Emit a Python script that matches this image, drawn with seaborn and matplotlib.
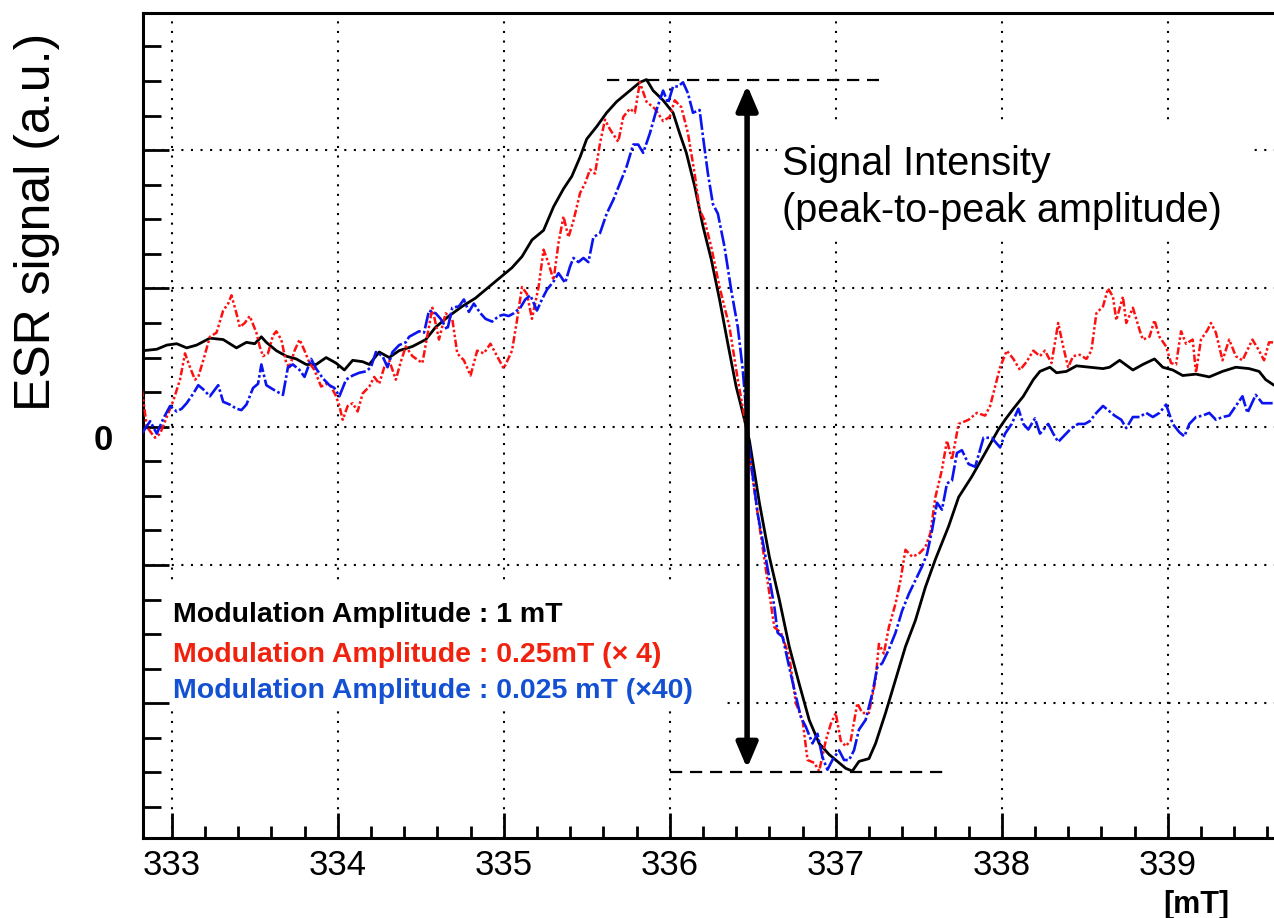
import matplotlib
matplotlib.use("Agg")
import matplotlib.pyplot as plt
import seaborn as sns
from matplotlib.patches import Rectangle
from matplotlib.ticker import MultipleLocator
from matplotlib.transforms import ScaledTranslation

# ---------------- data ----------------
black_x = [332.83, 332.91, 332.97, 333.03, 333.09, 333.15, 333.23, 333.31, 333.39, 333.45,
           333.50, 333.54, 333.57, 333.63, 333.69, 333.75, 333.81, 333.87, 333.93, 333.99,
           334.04, 334.09, 334.15, 334.19, 334.25, 334.31, 334.37, 334.45, 334.53, 334.59,
           334.67, 334.75, 334.83, 334.91, 334.97, 335.05, 335.11, 335.17, 335.24, 335.30,
           335.36, 335.41, 335.46, 335.50, 335.56, 335.62, 335.68, 335.76, 335.82, 335.86,
           335.90, 335.96, 336.02, 336.06, 336.10, 336.15, 336.20, 336.25, 336.30, 336.35,
           336.40, 336.44, 336.48, 336.54, 336.60, 336.66, 336.72, 336.78, 336.84, 336.90,
           336.96, 337.02, 337.06, 337.10, 337.14, 337.20, 337.24, 337.30, 337.36, 337.42,
           337.48, 337.54, 337.60, 337.68, 337.74, 337.82, 337.90, 337.98, 338.02, 338.07,
           338.13, 338.19, 338.23, 338.29, 338.33, 338.39, 338.45, 338.53, 338.61, 338.65,
           338.71, 338.79, 338.85, 338.92, 338.97, 339.03, 339.09, 339.17, 339.25, 339.33,
           339.41, 339.49, 339.55, 339.59, 339.64]
black_y = [0.55, 0.56, 0.59, 0.60, 0.57, 0.59, 0.64, 0.63, 0.57, 0.61,
           0.60, 0.65, 0.61, 0.55, 0.51, 0.49, 0.45, 0.45, 0.50, 0.46,
           0.41, 0.48, 0.47, 0.45, 0.54, 0.50, 0.55, 0.58, 0.63, 0.72,
           0.80, 0.87, 0.93, 1.01, 1.07, 1.15, 1.23, 1.35, 1.42, 1.59,
           1.72, 1.81, 1.95, 2.08, 2.17, 2.27, 2.35, 2.43, 2.49, 2.51,
           2.43, 2.36, 2.27, 2.12, 1.98, 1.74, 1.45, 1.21, 0.92, 0.60,
           0.29, 0.10, -0.10, -0.55, -0.94, -1.25, -1.59, -1.86, -2.12, -2.29,
           -2.37, -2.43, -2.47, -2.49, -2.42, -2.40, -2.29, -2.07, -1.83, -1.59,
           -1.40, -1.16, -0.96, -0.72, -0.51, -0.36, -0.19, -0.02, 0.05, 0.13,
           0.22, 0.34, 0.40, 0.43, 0.39, 0.40, 0.44, 0.43, 0.42, 0.43,
           0.48, 0.41, 0.45, 0.49, 0.43, 0.41, 0.37, 0.38, 0.36, 0.40,
           0.43, 0.42, 0.40, 0.34, 0.30]

red_x = [332.82, 332.85, 332.88, 332.90, 332.93, 332.97, 333.01, 333.05, 333.08, 333.11,
         333.14, 333.16, 333.19, 333.23, 333.27, 333.31, 333.34, 333.36, 333.39, 333.41,
         333.44, 333.47, 333.51, 333.53, 333.55, 333.58, 333.61, 333.63, 333.66, 333.69,
         333.71, 333.74, 333.77, 333.80, 333.83, 333.86, 333.90, 333.93, 333.96, 333.99,
         334.01, 334.03, 334.06, 334.09, 334.12, 334.15, 334.19, 334.22, 334.25, 334.28,
         334.31, 334.35, 334.38, 334.41, 334.45, 334.51, 334.57, 334.61, 334.65, 334.69,
         334.72, 334.76, 334.80, 334.84, 334.88, 334.92, 334.96, 335.00, 335.05, 335.08,
         335.11, 335.14, 335.17, 335.21, 335.24, 335.27, 335.30, 335.33, 335.36, 335.39,
         335.42, 335.46, 335.49, 335.52, 335.55, 335.58, 335.61, 335.64, 335.69, 335.72,
         335.76, 335.79, 335.82, 335.86, 335.91, 335.96, 336.00, 336.03, 336.07, 336.11,
         336.15, 336.18, 336.21, 336.25, 336.30, 336.36, 336.41, 336.45, 336.52, 336.58,
         336.63, 336.67, 336.72, 336.76, 336.80, 336.83, 336.87, 336.90, 336.94, 336.97,
         337.00, 337.03, 337.06, 337.09, 337.13, 337.16, 337.20, 337.24, 337.26, 337.29,
         337.32, 337.36, 337.39, 337.42, 337.46, 337.50, 337.54, 337.57, 337.60, 337.64,
         337.67, 337.70, 337.74, 337.80, 337.85, 337.90, 337.93, 337.96, 337.99, 338.03,
         338.07, 338.11, 338.15, 338.19, 338.23, 338.26, 338.30, 338.34, 338.37, 338.40,
         338.43, 338.47, 338.51, 338.54, 338.57, 338.61, 338.64, 338.67, 338.69, 338.73,
         338.75, 338.79, 338.83, 338.85, 338.89, 338.92, 338.95, 338.99, 339.02, 339.05,
         339.08, 339.11, 339.15, 339.17, 339.20, 339.24, 339.26, 339.29, 339.33, 339.37,
         339.41, 339.45, 339.51, 339.55, 339.58, 339.61, 339.64]
red_y = [0.27, 0.00, -0.05, -0.08, -0.05, 0.07, 0.19, 0.34, 0.53, 0.43,
         0.34, 0.36, 0.48, 0.65, 0.68, 0.84, 0.89, 0.95, 0.82, 0.72,
         0.75, 0.80, 0.68, 0.58, 0.51, 0.53, 0.66, 0.69, 0.63, 0.46,
         0.43, 0.55, 0.63, 0.55, 0.46, 0.41, 0.29, 0.31, 0.29, 0.22,
         0.15, 0.05, 0.15, 0.17, 0.11, 0.24, 0.29, 0.36, 0.31, 0.43,
         0.48, 0.34, 0.47, 0.58, 0.51, 0.46, 0.86, 0.63, 0.82, 0.78,
         0.53, 0.48, 0.37, 0.55, 0.53, 0.60, 0.51, 0.42, 0.55, 0.77,
         1.01, 0.96, 0.78, 1.01, 1.28, 1.18, 1.06, 1.33, 1.52, 1.37,
         1.49, 1.69, 1.76, 1.86, 1.83, 2.05, 2.22, 2.15, 2.06, 2.24,
         2.30, 2.27, 2.49, 2.35, 2.30, 2.21, 2.24, 2.36, 2.31, 2.12,
         1.83, 1.57, 1.49, 1.30, 1.01, 0.72, 0.34, 0.07, -0.55, -1.04,
         -1.45, -1.49, -1.66, -2.00, -2.12, -2.41, -2.43, -2.49, -2.27, -2.15,
         -2.07, -2.27, -2.31, -2.27, -2.00, -2.07, -2.07, -1.83, -1.57, -1.64,
         -1.45, -1.28, -1.11, -0.89, -0.94, -0.92, -0.87, -0.77, -0.51, -0.31,
         -0.10, -0.24, 0.02, 0.05, 0.10, 0.08, 0.15, 0.29, 0.43, 0.55,
         0.49, 0.41, 0.47, 0.55, 0.51, 0.55, 0.46, 0.75, 0.58, 0.43,
         0.51, 0.52, 0.49, 0.55, 0.82, 0.87, 1.00, 0.94, 0.77, 0.94,
         0.75, 0.86, 0.70, 0.63, 0.65, 0.77, 0.65, 0.58, 0.46, 0.45,
         0.69, 0.60, 0.63, 0.39, 0.63, 0.70, 0.75, 0.68, 0.48, 0.63,
         0.51, 0.48, 0.63, 0.55, 0.48, 0.61, 0.61]

blue_x = [332.82, 332.87, 332.91, 332.95, 332.99, 333.03, 333.06, 333.09, 333.13, 333.16,
          333.19, 333.23, 333.28, 333.31, 333.35, 333.39, 333.42, 333.45, 333.49, 333.52,
          333.54, 333.57, 333.61, 333.64, 333.67, 333.70, 333.73, 333.77, 333.80, 333.84,
          333.87, 333.91, 333.95, 333.98, 334.01, 334.05, 334.09, 334.13, 334.17, 334.20,
          334.23, 334.27, 334.30, 334.33, 334.37, 334.41, 334.43, 334.49, 334.52, 334.55,
          334.59, 334.62, 334.66, 334.69, 334.73, 334.76, 334.79, 334.82, 334.86, 334.89,
          334.93, 334.97, 335.00, 335.03, 335.06, 335.10, 335.13, 335.16, 335.20, 335.23,
          335.26, 335.30, 335.33, 335.37, 335.40, 335.42, 335.45, 335.48, 335.51, 335.54,
          335.58, 335.62, 335.66, 335.70, 335.74, 335.78, 335.81, 335.84, 335.88, 335.92,
          335.96, 335.99, 336.02, 336.05, 336.08, 336.11, 336.14, 336.18, 336.20, 336.23,
          336.26, 336.29, 336.33, 336.37, 336.41, 336.44, 336.48, 336.53, 336.58, 336.63,
          336.65, 336.68, 336.72, 336.76, 336.79, 336.82, 336.86, 336.89, 336.92, 336.95,
          336.98, 337.02, 337.05, 337.08, 337.11, 337.14, 337.18, 337.22, 337.25, 337.28,
          337.32, 337.36, 337.40, 337.44, 337.48, 337.52, 337.55, 337.58, 337.61, 337.64,
          337.67, 337.70, 337.73, 337.76, 337.80, 337.84, 337.89, 337.94, 337.99, 338.02,
          338.06, 338.10, 338.13, 338.16, 338.20, 338.23, 338.28, 338.31, 338.34, 338.38,
          338.42, 338.46, 338.50, 338.53, 338.57, 338.61, 338.64, 338.68, 338.72, 338.75,
          338.79, 338.83, 338.87, 338.91, 338.95, 338.99, 339.03, 339.07, 339.10, 339.13,
          339.17, 339.21, 339.25, 339.29, 339.33, 339.37, 339.41, 339.45, 339.48, 339.53,
          339.57, 339.64]
blue_y = [-0.05, 0.04, -0.05, 0.06, 0.15, 0.11, 0.13, 0.17, 0.24, 0.30,
          0.27, 0.22, 0.30, 0.18, 0.16, 0.13, 0.12, 0.16, 0.28, 0.31,
          0.45, 0.30, 0.27, 0.25, 0.23, 0.43, 0.45, 0.41, 0.36, 0.49,
          0.42, 0.35, 0.30, 0.28, 0.22, 0.34, 0.37, 0.39, 0.40, 0.43,
          0.54, 0.51, 0.43, 0.54, 0.59, 0.61, 0.65, 0.69, 0.68, 0.84,
          0.82, 0.78, 0.70, 0.86, 0.87, 0.92, 0.83, 0.89, 0.82, 0.78,
          0.76, 0.80, 0.81, 0.80, 0.82, 0.86, 0.92, 0.95, 0.84, 0.92,
          0.99, 1.05, 1.11, 1.04, 1.16, 1.22, 1.19, 1.22, 1.19, 1.37,
          1.40, 1.54, 1.64, 1.76, 1.88, 2.04, 2.04, 1.98, 2.12, 2.29,
          2.43, 2.34, 2.46, 2.46, 2.49, 2.41, 2.27, 2.29, 2.10, 1.83,
          1.61, 1.54, 1.30, 0.99, 0.72, 0.41, -0.17, -0.63, -0.96, -1.30,
          -1.49, -1.52, -1.74, -1.95, -2.10, -2.17, -2.29, -2.22, -2.39, -2.48,
          -2.41, -2.34, -2.41, -2.41, -2.34, -2.19, -2.12, -1.93, -1.74, -1.71,
          -1.61, -1.49, -1.33, -1.21, -1.11, -1.01, -0.92, -0.75, -0.55, -0.60,
          -0.41, -0.39, -0.19, -0.17, -0.27, -0.29, -0.08, -0.08, -0.15, -0.05,
          0.02, 0.13, 0.02, -0.02, 0.06, -0.05, 0.02, -0.05, -0.11, -0.06,
          -0.01, 0.02, 0.02, 0.04, 0.10, 0.15, 0.12, 0.08, 0.05, -0.01,
          0.07, 0.07, 0.10, 0.07, 0.10, 0.16, 0.02, -0.04, -0.07, 0.02,
          0.07, 0.08, 0.10, 0.05, 0.07, 0.08, 0.15, 0.22, 0.10, 0.23,
          0.17, 0.17]

x_ticks = [333, 334, 335, 336, 337, 338, 339]
x_tick_labels = ["333", "334", "335", "336", "337", "338", "339"]
y_ticks = [-2, -1, 0, 1, 2]
y_tick_labels = ["", "", "0", "", ""]

ref_levels = [2.507, -2.50]          # peak / trough reference levels
ref_x_start = [335.62, 336.00]
ref_x_end = [337.26, 337.65]
arrow_x = 336.466
arrow_top, arrow_bottom = 2.47, -2.47

legend_labels = ["Modulation Amplitude : 1 mT",
                 "Modulation Amplitude : 0.25mT (\u00d7 4)",
                 "Modulation Amplitude : 0.025 mT (\u00d740)"]
legend_colors = ["#000000", "#F0220E", "#1450D2"]

# ---------------- style ----------------
sns.set_style("white")
plt.rcParams["font.family"] = ["Liberation Sans", "DejaVu Sans"]
plt.rcParams["text.color"] = "black"
plt.rcParams["axes.labelcolor"] = "black"
plt.rcParams["xtick.color"] = "black"
plt.rcParams["ytick.color"] = "black"

W, H = 1274, 918
fig = plt.figure(figsize=(W / 100, H / 100), dpi=100)
ax_l, ax_r, ax_t, ax_b = 143, 1274, 13.3, 838.3
ax = fig.add_axes([ax_l / W, 1 - ax_b / H, (ax_r - ax_l) / W, (ax_b - ax_t) / H])
ax.set_axisbelow(False)

ax.set_xlim(332.827, 339.64)
ax.set_ylim(-2.976, 2.989)

# manual dotted grid (under white label boxes)
grid_ls = (0, (1, 3.6))
for xv in x_ticks:
    ax.axvline(xv, color="black", lw=1.5, linestyle=grid_ls, zorder=0.6)
for yv in y_ticks:
    ax.axhline(yv, color="black", lw=1.5, linestyle=grid_ls, zorder=0.6)

# white backgrounds of the text blocks
ax.add_patch(Rectangle((0.002, 0.1555), 0.514, 0.154, transform=ax.transAxes,
                       facecolor="white", edgecolor="none", zorder=1))
ax.add_patch(Rectangle((0.5606, 0.7252), 0.4208, 0.1455, transform=ax.transAxes,
                       facecolor="white", edgecolor="none", zorder=1))

# curves
sns.lineplot(x=black_x, y=black_y, ax=ax, color="black", lw=2.0,
             estimator=None, sort=False, zorder=3)
sns.lineplot(x=red_x, y=red_y, ax=ax, color="#FF1010", lw=1.8,
             linestyle=(0, (3, 1, 1, 1, 1, 1)), estimator=None, sort=False, zorder=3)
sns.lineplot(x=blue_x, y=blue_y, ax=ax, color="#0A14F0", lw=1.9,
             linestyle=(0, (6, 1, 1, 1)), estimator=None, sort=False, zorder=3)

# reference dashed lines
ax.hlines(ref_levels, ref_x_start, ref_x_end, colors="black", lw=1.6,
          linestyles=[(0, (5.5, 3.5))], zorder=3)

# double-headed arrow
ax.annotate("", xy=(arrow_x, arrow_top), xytext=(arrow_x, arrow_bottom),
            arrowprops=dict(arrowstyle="<|-|>,head_length=0.75,head_width=0.32",
                            lw=4, color="black", mutation_scale=20,
                            shrinkA=0, shrinkB=0), zorder=4)

ax.text(336.676, 1.82, "Signal Intensity", fontsize=28.5, va="baseline", ha="left",
        color="black", zorder=5)
ax.text(336.676, 1.48, "(peak-to-peak amplitude)", fontsize=28.5, va="baseline", ha="left",
        color="black", zorder=5)

# legend-like colored texts
leg_y = [0.2622, 0.2137, 0.1701]
for lab, col, yy in zip(legend_labels, legend_colors, leg_y):
    ax.text(0.0265, yy, lab, color=col, fontsize=20.5, fontweight="bold",
            transform=ax.transAxes, va="baseline", ha="left", zorder=5)

# ticks
ax.set_xticks(x_ticks)
ax.set_xticklabels(x_tick_labels)
ax.set_yticks(y_ticks)
ax.set_yticklabels(y_tick_labels, fontweight="bold")
ax.xaxis.set_minor_locator(MultipleLocator(0.2))
ax.yaxis.set_minor_locator(MultipleLocator(0.25))
ax.tick_params(axis="x", which="major", direction="in", length=18, width=2,
               pad=8, labelsize=25, top=False, bottom=True, colors="black")
ax.tick_params(axis="x", which="minor", direction="in", length=8.5, width=2,
               top=False, bottom=True, colors="black")
ax.tick_params(axis="y", which="major", direction="in", length=19, width=2,
               pad=22, labelsize=25, left=True, right=False, colors="black")
ax.tick_params(axis="y", which="minor", direction="in", length=13, width=2,
               left=True, right=False, colors="black")
for lbl in ax.get_yticklabels():
    lbl.set_transform(lbl.get_transform() + ScaledTranslation(0, -0.10, fig.dpi_scale_trans))

for s in ["left", "bottom", "top"]:
    ax.spines[s].set_visible(True)
    ax.spines[s].set_color("black")
    ax.spines[s].set_linewidth(2.2)
ax.spines["right"].set_visible(False)

ax.set_xlabel("")
ax.set_ylabel("")

fig.text(37 / W, 1 - 222 / H, "ESR signal (a.u.)", rotation=90, fontsize=36,
         ha="center", va="center", color="black")
fig.text(1196 / W, 1 - 905 / H, "[mT]", fontsize=22, fontweight="bold",
         ha="center", va="center", color="black")

fig.savefig("out.png", dpi=100)
